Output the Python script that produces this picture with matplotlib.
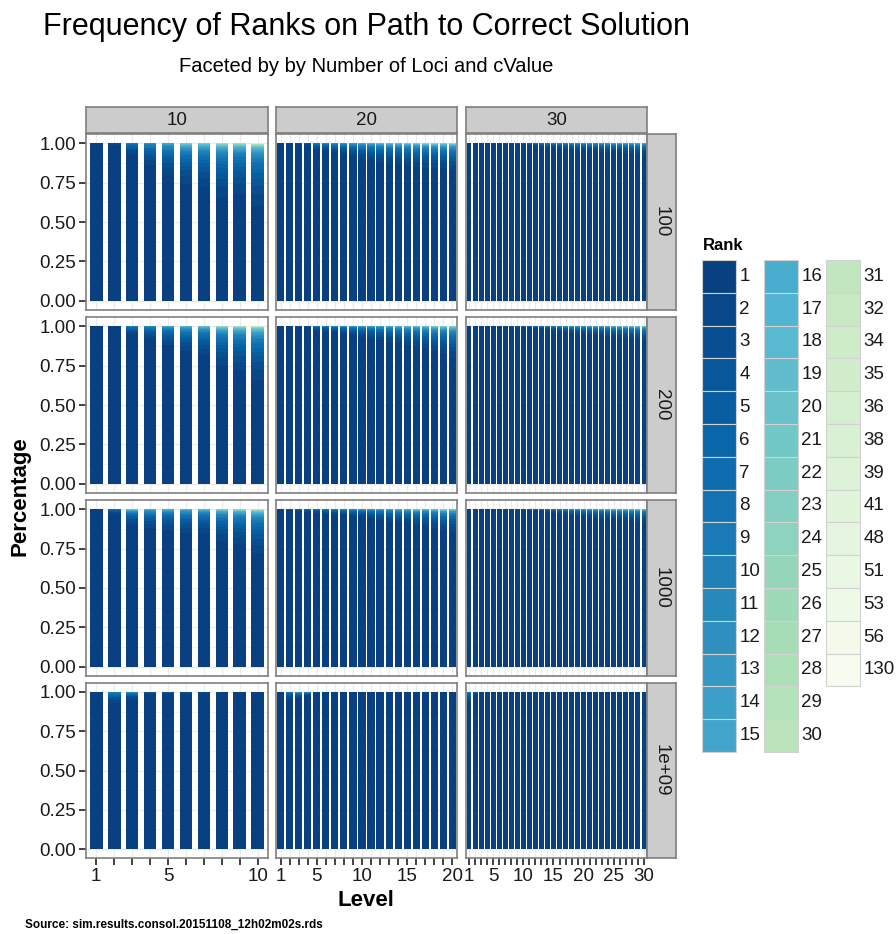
import numpy as np
import matplotlib
matplotlib.use("Agg")
import matplotlib.pyplot as plt
from matplotlib.colors import LinearSegmentedColormap
from matplotlib.patches import Rectangle

plt.rcParams['font.family'] = ['Liberation Sans', 'DejaVu Sans']

# ---------------------------------------------------------------- data
rank_labels = [str(i) for i in range(1, 31)] + [
    "31", "32", "34", "35", "36", "38", "39", "41", "48", "51", "53", "56", "130"]
loci_values = [10, 20, 30]
cvalue_labels = ["100", "200", "1000", "1e+09"]

# relative weight of ranks 2, 3, ... within the non-rank-1 share of a bar
tail_weights = [0.20, 0.14, 0.11, 0.09, 0.075, 0.062, 0.052, 0.044, 0.037, 0.031,
                0.026, 0.022, 0.019, 0.016, 0.014, 0.012, 0.010, 0.009, 0.008, 0.007,
                0.006, 0.0055, 0.005, 0.0045, 0.004, 0.0036, 0.0032, 0.0029, 0.0026, 0.0023,
                0.0021, 0.0019, 0.0017, 0.0015, 0.0014, 0.0013, 0.0012, 0.0011, 0.001, 0.0009,
                0.0008, 0.0007]

# share of rank 1 per level, and deepest rank seen per level
share_100_10 = [1.00, 0.99, 0.93, 0.86, 0.80, 0.74, 0.72, 0.66, 0.68, 0.60]
depth_100_10 = [1, 3, 9, 12, 16, 24, 24, 30, 30, 43]
share_100_20 = [1.00, 0.995, 0.99, 0.985, 0.96, 0.95, 0.94, 0.93, 0.92, 0.90,
                0.89, 0.88, 0.87, 0.87, 0.86, 0.85, 0.84, 0.84, 0.84, 0.83]
depth_100_20 = [1, 2, 3, 4, 10, 12, 13, 14, 15, 17, 18, 20, 22, 22, 24, 25, 30, 30, 27, 30]
share_100_30 = [1.0, 1.0, 0.998, 0.997, 0.996, 0.995, 0.994, 0.993, 0.99, 0.99,
                0.985, 0.98, 0.975, 0.97, 0.97, 0.965, 0.96, 0.96, 0.955, 0.955,
                0.95, 0.95, 0.945, 0.945, 0.94, 0.94, 0.935, 0.935, 0.93, 0.93]
depth_100_30 = [1, 1, 2, 2, 3, 3, 4, 4, 5, 6, 8, 9, 10, 10, 11, 12, 12, 13, 13, 14,
                14, 15, 15, 16, 16, 16, 17, 17, 18, 18]

share_200_10 = [1.00, 0.995, 0.95, 0.92, 0.88, 0.84, 0.82, 0.75, 0.72, 0.66]
depth_200_10 = [1, 2, 10, 12, 15, 18, 20, 28, 30, 35]
share_200_20 = [1.0, 1.0, 0.995, 0.99, 0.97, 0.965, 0.96, 0.95, 0.94, 0.93,
                0.92, 0.91, 0.90, 0.89, 0.88, 0.87, 0.86, 0.84, 0.83, 0.80]
depth_200_20 = [1, 1, 2, 4, 8, 10, 11, 12, 13, 14, 15, 16, 17, 18, 19, 20, 22, 24, 25, 26]
share_200_30 = [1.0, 1.0, 1.0, 0.998, 0.997, 0.996, 0.995, 0.994, 0.993, 0.99,
                0.99, 0.985, 0.98, 0.975, 0.97, 0.965, 0.96, 0.955, 0.95, 0.95,
                0.945, 0.94, 0.94, 0.935, 0.93, 0.925, 0.92, 0.92, 0.915, 0.91]
depth_200_30 = [1, 1, 1, 2, 2, 3, 3, 4, 4, 5, 6, 8, 9, 10, 11, 12, 13, 14, 15, 15,
                16, 17, 17, 18, 20, 22, 22, 22, 24, 24]

share_1000_10 = [1.00, 0.97, 0.90, 0.88, 0.87, 0.85, 0.85, 0.80, 0.78, 0.72]
depth_1000_10 = [1, 8, 25, 18, 18, 18, 20, 28, 30, 35]
share_1000_20 = [1.0, 0.99, 0.985, 0.98, 0.975, 0.97, 0.965, 0.96, 0.955, 0.95,
                 0.94, 0.93, 0.92, 0.915, 0.91, 0.90, 0.89, 0.88, 0.87, 0.86]
depth_1000_20 = [1, 4, 6, 8, 9, 10, 11, 12, 13, 14, 15, 16, 17, 18, 19, 25, 20, 22, 30, 24]
share_1000_30 = [1.0, 1.0, 1.0, 0.999, 0.998, 0.997, 0.996, 0.995, 0.994, 0.993,
                 0.99, 0.99, 0.985, 0.98, 0.975, 0.97, 0.965, 0.96, 0.955, 0.95,
                 0.95, 0.945, 0.94, 0.94, 0.935, 0.93, 0.93, 0.925, 0.92, 0.92]
depth_1000_30 = [1, 1, 1, 2, 2, 3, 3, 4, 4, 5, 6, 7, 8, 9, 10, 11, 12, 13, 14, 15,
                 16, 17, 18, 19, 20, 20, 22, 22, 24, 24]

share_1e9_10 = [1.00, 0.93, 0.955, 0.985, 0.985, 0.99, 0.995, 1.0, 1.0, 1.0]
depth_1e9_10 = [1, 10, 14, 5, 5, 4, 3, 1, 1, 1]
share_1e9_20 = [1.0, 0.95, 0.96, 0.975, 0.995, 0.995, 1.0, 1.0, 1.0, 1.0,
                1.0, 1.0, 1.0, 1.0, 1.0, 1.0, 1.0, 1.0, 1.0, 1.0]
depth_1e9_20 = [1, 8, 14, 14, 3, 3, 1, 1, 1, 1, 1, 1, 1, 1, 1, 1, 1, 1, 1, 1]
share_1e9_30 = [0.93, 0.985] + [1.0] * 28
depth_1e9_30 = [8, 6] + [1] * 28

panel_data = {
    ("100", 10): (share_100_10, depth_100_10),
    ("100", 20): (share_100_20, depth_100_20),
    ("100", 30): (share_100_30, depth_100_30),
    ("200", 10): (share_200_10, depth_200_10),
    ("200", 20): (share_200_20, depth_200_20),
    ("200", 30): (share_200_30, depth_200_30),
    ("1000", 10): (share_1000_10, depth_1000_10),
    ("1000", 20): (share_1000_20, depth_1000_20),
    ("1000", 30): (share_1000_30, depth_1000_30),
    ("1e+09", 10): (share_1e9_10, depth_1e9_10),
    ("1e+09", 20): (share_1e9_20, depth_1e9_20),
    ("1e+09", 30): (share_1e9_30, depth_1e9_30),
}

x_label_ticks = {10: [1, 5, 10], 20: [1, 5, 10, 15, 20], 30: [1, 5, 10, 15, 20, 25, 30]}

# ---------------------------------------------------------------- colours
gnbu = ['#f7fcf0', '#e0f3db', '#ccebc5', '#a8ddb5', '#7bccc4',
        '#4eb3d3', '#2b8cbe', '#0868ac', '#084081']
cmap = LinearSegmentedColormap.from_list('gnbu_r', gnbu[::-1])
n_ranks = len(rank_labels)
rank_colors = [cmap(i / (n_ranks - 1)) for i in range(n_ranks)]


def composition(share, depth):
    comp = np.zeros(n_ranks)
    comp[0] = share
    if depth > 1:
        w = np.array(tail_weights[:depth - 1])
        comp[1:depth] = (1.0 - share) * w / w.sum()
    return comp


# ---------------------------------------------------------------- layout
W, H = 896, 934
fig = plt.figure(figsize=(W / 100, H / 100), dpi=100)


def box(x0, y0, x1, y1):
    return [x0 / W, 1 - y1 / H, (x1 - x0) / W, (y1 - y0) / H]


col_px = [(86, 268), (276, 457), (466, 647)]
row_px = [(134, 310), (317, 493), (500, 676), (683, 858)]
x_pad = {10: 0.575, 20: 0.5, 30: 0.5}
bar_width = {10: 0.70, 20: 0.80, 30: 0.82}
border = '#7f7f7f'
grid_major = '#ebebeb'
grid_minor = '#f3f3f3'

for r, cval in enumerate(cvalue_labels):
    for c, loci in enumerate(loci_values):
        x0, x1 = col_px[c]
        y0, y1 = row_px[r]
        ax = fig.add_axes(box(x0, y0, x1, y1))
        share, depth = panel_data[(cval, loci)]
        levels = np.arange(1, loci + 1)
        comps = np.array([composition(s, d) for s, d in zip(share, depth)])
        bottoms = np.zeros(loci)
        for k in range(n_ranks):
            h = comps[:, k]
            if h.sum() > 0:
                ax.bar(levels, h, bottom=bottoms, width=bar_width[loci],
                       color=rank_colors[k], linewidth=0, zorder=2)
            bottoms += h

        ax.set_xlim(1 - x_pad[loci], loci + x_pad[loci])
        ax.set_ylim(-0.057, 1.057)
        ax.set_facecolor('white')
        for sp in ax.spines.values():
            sp.set_color(border)
            sp.set_linewidth(1.2)
            sp.set_zorder(5)

        ax.set_xticks(levels)
        ax.set_xticklabels([str(v) if v in x_label_ticks[loci] else '' for v in levels])
        ax.set_yticks([0, 0.25, 0.5, 0.75, 1.0])
        ax.set_yticklabels(['0.00', '0.25', '0.50', '0.75', '1.00'])
        ax.set_yticks([0.125, 0.375, 0.625, 0.875], minor=True)
        ax.grid(True, which='major', color=grid_major, linewidth=0.9, zorder=0)
        ax.grid(True, which='minor', axis='y', color=grid_minor, linewidth=0.7, zorder=0)
        ax.set_axisbelow(True)
        ax.tick_params(axis='both', which='major', direction='out', length=5,
                       width=1.3, color='#333333', labelsize=13.5,
                       labelcolor='#1a1a1a', pad=2)
        ax.tick_params(axis='y', which='minor', length=0)
        if c != 0:
            ax.tick_params(axis='y', left=False, labelleft=False)
        if r != len(cvalue_labels) - 1:
            ax.tick_params(axis='x', bottom=False, labelbottom=False)

        # column strip
        if r == 0:
            sax = fig.add_axes(box(x0, 107, x1, 133))
            sax.set_facecolor('#cccccc')
            sax.set_xticks([])
            sax.set_yticks([])
            for sp in sax.spines.values():
                sp.set_color(border)
                sp.set_linewidth(1.2)
            sax.text(0.5, 0.48, str(loci), ha='center', va='center',
                     fontsize=13.5, color='#1a1a1a', transform=sax.transAxes)
        # row strip
        if c == len(loci_values) - 1:
            rax = fig.add_axes(box(647, y0, 676, y1))
            rax.set_facecolor('#cccccc')
            rax.set_xticks([])
            rax.set_yticks([])
            for sp in rax.spines.values():
                sp.set_color(border)
                sp.set_linewidth(1.2)
            rax.text(0.5, 0.5, cval, ha='center', va='center', rotation=-90,
                     fontsize=13.5, color='#1a1a1a', transform=rax.transAxes)

# ---------------------------------------------------------------- text
fig.text(366 / W, 1 - 27 / H, "Frequency of Ranks on Path to Correct Solution",
         ha='center', va='center', fontsize=22)
fig.text(366 / W, 1 - 67 / H, "Faceted by by Number of Loci and cValue",
         ha='center', va='center', fontsize=14.5)
fig.text(20 / W, 1 - 496 / H, "Percentage", ha='center', va='center',
         rotation=90, fontsize=16, fontweight='bold')
fig.text(366 / W, 1 - 901 / H, "Level", ha='center', va='center',
         fontsize=16, fontweight='bold')
fig.text(25 / W, 1 - 931 / H, "Source: sim.results.consol.20151108_12h02m02s.rds",
         ha='left', va='bottom', fontsize=8.5, fontweight='bold')

# ---------------------------------------------------------------- legend
lax = fig.add_axes([0, 0, 1, 1])
lax.set_xlim(0, W)
lax.set_ylim(H, 0)
lax.axis('off')
lax.patch.set_alpha(0)
lax.text(703, 246, "Rank", ha='left', va='center', fontsize=12, fontweight='bold')
key_x = [702, 764, 826]
key_w = 33.5
key_h = 32.8
key_top = 260
per_col = 15
for i, lab in enumerate(rank_labels):
    col, row = divmod(i, per_col)
    kx = key_x[col]
    ky = key_top + row * key_h
    lax.add_patch(Rectangle((kx, ky), key_w, key_h, facecolor=rank_colors[i],
                            edgecolor='#d2d2d2', linewidth=0.8))
    lax.text(kx + key_w + 4, ky + key_h / 2, lab, ha='left', va='center',
             fontsize=13.5, color='#1a1a1a')

fig.savefig("out.png", dpi=100)
